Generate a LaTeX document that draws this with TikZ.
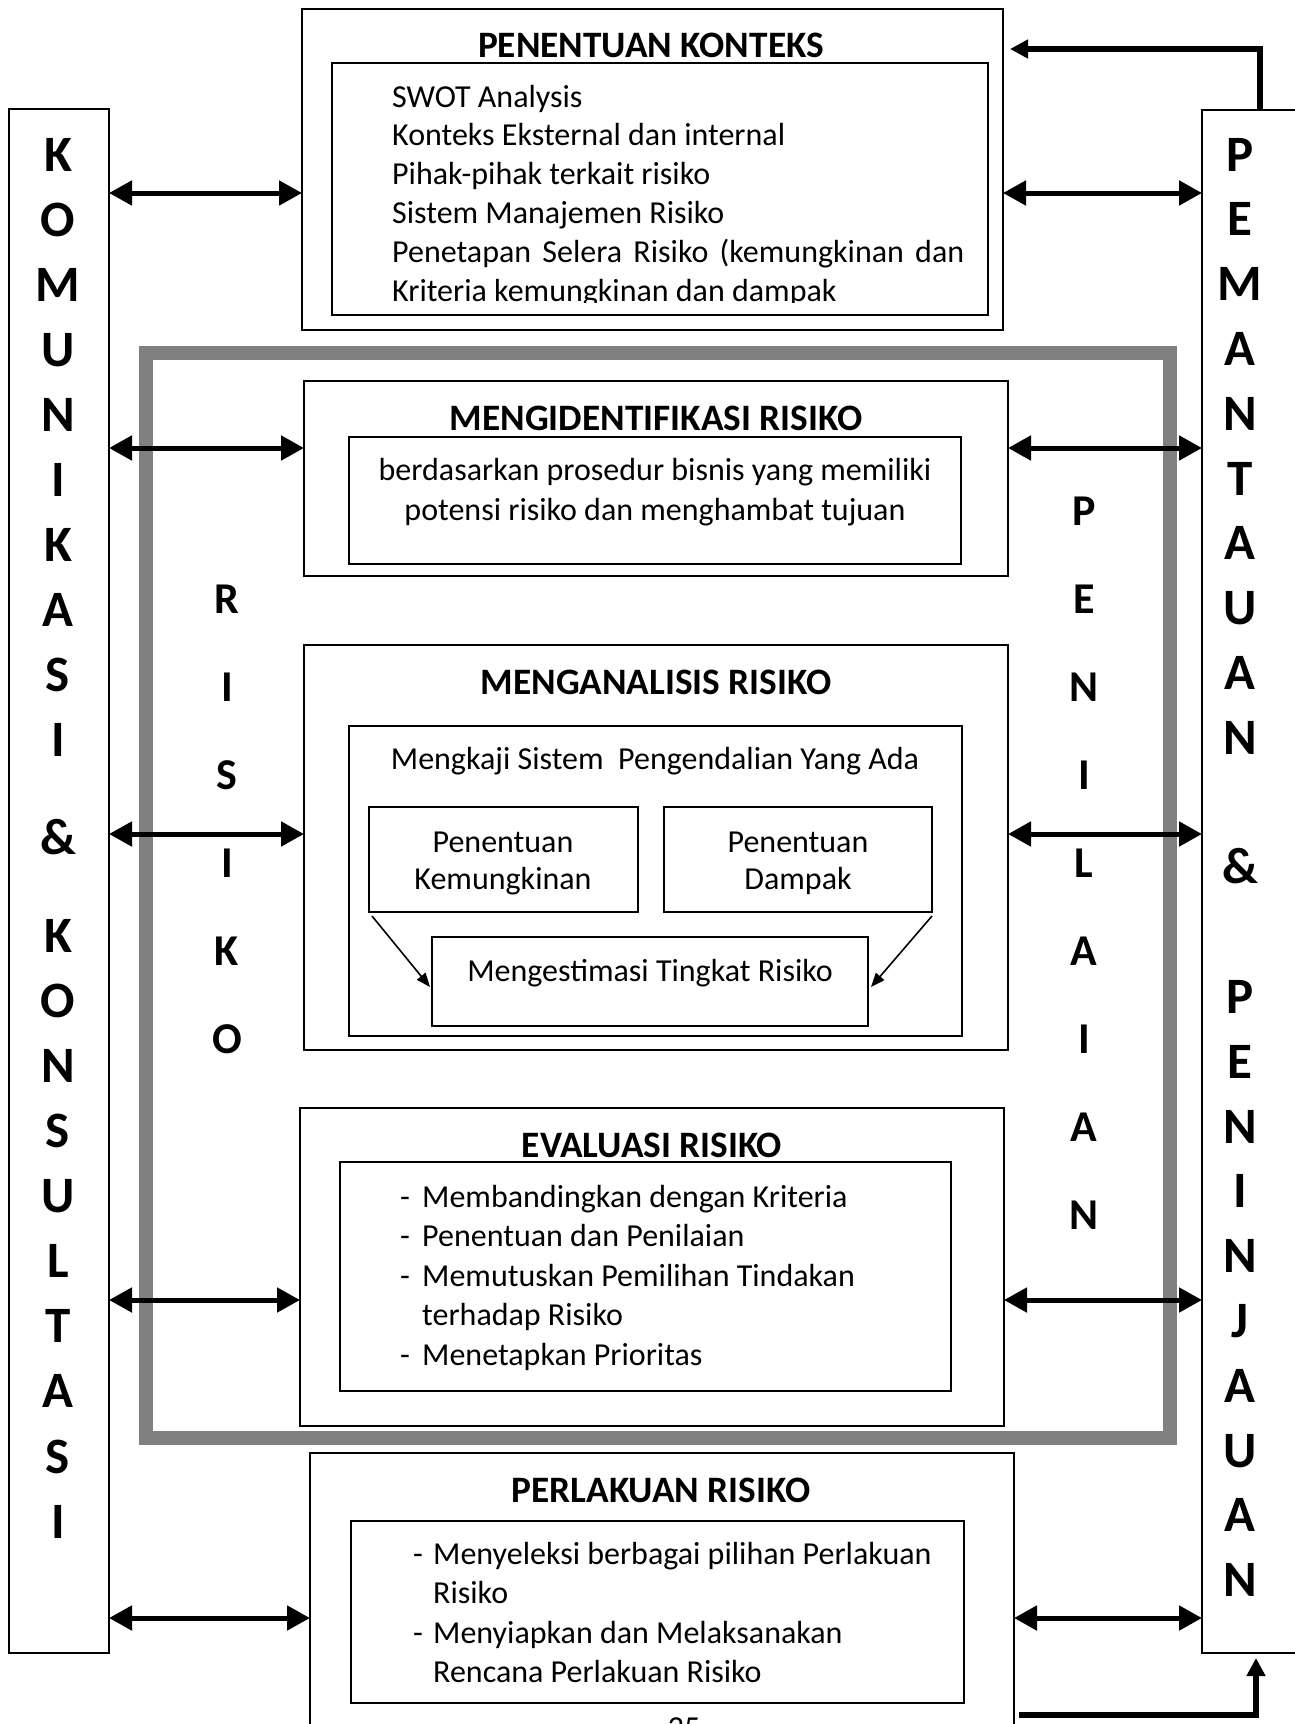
\documentclass[tikz,border=0pt]{standalone}
\usepackage{fontspec}
\setmainfont{Carlito}
\usetikzlibrary{arrows.meta}

\tikzset{
  box/.style={draw, line width=2.5pt, inner sep=0pt, outer sep=0pt, anchor=north west},
  frame/.style={draw=gray, line width=14pt, inner sep=0pt, outer sep=0pt, anchor=north west},
  title/.style={font=\fontsize{37.3pt}{44pt}\selectfont\bfseries, anchor=base, inner sep=0pt},
  body/.style={font=\fontsize{32pt}{39pt}\selectfont, anchor=base west, inner sep=0pt},
  bodyc/.style={body, anchor=base},
  sidechar/.style={font=\fontsize{51pt}{60pt}\selectfont\bfseries, anchor=base, inner sep=0pt},
  midchar/.style={font=\fontsize{44pt}{52pt}\selectfont\bfseries, anchor=base, inner sep=0pt},
  dblarrow/.style={line width=5pt, {Triangle[length=23pt,width=24pt]}-{Triangle[length=23pt,width=24pt]}},
  feedarrow/.style={line width=5.5pt, -{Triangle[length=18pt,width=18pt]}},
  thinarrow/.style={line width=1.6pt, -{Triangle[length=14pt,width=11pt]}}
}
\newcommand{\itemdash}[1][22pt]{\makebox[#1][l]{-}}

\begin{document}
\begin{tikzpicture}[x=1pt,y=-1pt]
  \useasboundingbox (0,0) rectangle (1295,1724);
  \fill[white] (0,0) rectangle (1295,1724);
  \clip (0,0) rectangle (1295,1724);

  % outer frame of the assessment part
  \node[frame, minimum width=1024pt, minimum height=1085pt] (assess) at (146,353) {};

  % side columns
  \node[box, minimum width=100pt, minimum height=1544pt] (kom) at (9,109) {};
  \node[box, minimum width=130pt, minimum height=1543pt] (pem) at (1202,110) {};

  \foreach \i/\c [count=\n] in {0/K,1/O,2/M,3/U,4/N,5/I,6/K,7/A,8/S,9/I,10.5/\&,12/K,13/O,14/N,15/S,16/U,17/L,18/T,19/A,20/S,21/I}
    \node[sidechar] (komc\n) at (58,171+\i*65.1) {\c};
  \foreach \i/\c [count=\n] in {0/P,1/E,2/M,3/A,4/N,5/T,6/A,7/U,8/A,9/N,11/\&,13/P,14/E,15/N,16/I,17/N,18/J,19/A,20/U,21/A,22/N}
    \node[sidechar] (pemc\n) at (1240,171+\i*64.8) {\c};
  \foreach \c [count=\n from 0] in {R,I,S,I,K,O}
    \node[midchar] (risc\n) at (227,613+\n*88) {\c};
  \foreach \c [count=\n from 0] in {P,E,N,I,L,A,I,A,N}
    \node[midchar] (penc\n) at (1084,525+\n*88.1) {\c};

  % penentuan konteks
  \node[box, minimum width=701pt, minimum height=321pt] (konteks) at (302,9) {};
  \node[box, minimum width=656pt, minimum height=252pt] (konteksin) at (332,63) {};
  \node[title] (konteksttl) at (651,57) {PENENTUAN KONTEKS};
  \begin{scope}
    \clip (332,63) rectangle (988,302);
    \node[body] (ctx0) at (392,107) {SWOT Analysis};
    \node[body] (ctx1) at (392,145.9) {Konteks Eksternal dan internal};
    \node[body] (ctx2) at (392,184.8) {Pihak-pihak terkait risiko};
    \node[body] (ctx3) at (392,223.7) {Sistem Manajemen Risiko};
    \node[body] (ctx4) at (392,262.6) {\makebox[572pt][s]{Penetapan Selera Risiko (kemungkinan dan}};
    \node[body] (ctx5) at (392,301.5) {Kriteria kemungkinan dan dampak};
  \end{scope}

  % mengidentifikasi
  \node[box, minimum width=704pt, minimum height=195pt] (identifikasi) at (304,381) {};
  \node[box, minimum width=612pt, minimum height=127pt] (identifikasiin) at (349,437) {};
  \node[title] (identifikasittl) at (656,430) {MENGIDENTIFIKASI RISIKO};
  \node[bodyc] (idt0) at (655,480) {berdasarkan prosedur bisnis yang memiliki};
  \node[bodyc] (idt1) at (655,520) {potensi risiko dan menghambat tujuan};

  % menganalisis
  \node[box, minimum width=704pt, minimum height=405pt] (analisis) at (304,645) {};
  \node[box, minimum width=613pt, minimum height=310pt] (analisisin) at (349,726) {};
  \node[title] (analisisttl) at (656,694) {MENGANALISIS RISIKO};
  \node[bodyc] (kaji) at (655,769) {Mengkaji Sistem\ \ Pengendalian Yang Ada};
  \node[box, minimum width=269pt, minimum height=105pt] (kemungkinan) at (369,807) {};
  \node[box, minimum width=268pt, minimum height=105pt] (dampak) at (664,807) {};
  \node[box, minimum width=436pt, minimum height=89pt] (estimasi) at (432,937) {};
  \node[bodyc] (kmg0) at (503,852) {Penentuan};
  \node[bodyc] (kmg1) at (503,889) {Kemungkinan};
  \node[bodyc] (dmp0) at (798,852) {Penentuan};
  \node[bodyc] (dmp1) at (798,889) {Dampak};
  \node[bodyc] (est0) at (650,981) {Mengestimasi Tingkat Risiko};
  \draw[thinarrow] ([shift={(3,4)}]kemungkinan.south west) -- ([shift={(-2,5.5)}]estimasi.west);
  \draw[thinarrow] ([shift={(0,4)}]dampak.south east) -- ([shift={(3,5.5)}]estimasi.east);

  % evaluasi
  \node[box, minimum width=704pt, minimum height=318pt] (evaluasi) at (300,1108) {};
  \node[box, minimum width=611pt, minimum height=229pt] (evaluasiin) at (340,1162) {};
  \node[title] (evaluasittl) at (652,1157) {EVALUASI RISIKO};
  \node[body] (evl0) at (400,1207) {\itemdash Membandingkan dengan Kriteria};
  \node[body] (evl1) at (400,1246.5) {\itemdash Penentuan dan Penilaian};
  \node[body] (evl2) at (400,1286) {\itemdash Memutuskan Pemilihan Tindakan};
  \node[body] (evl3) at (422,1325.5) {terhadap Risiko};
  \node[body] (evl4) at (400,1365) {\itemdash Menetapkan Prioritas};

  % perlakuan
  \node[box, minimum width=704pt, minimum height=300pt] (perlakuan) at (310,1453) {};
  \node[box, minimum width=613pt, minimum height=182pt] (perlakuanin) at (351,1521) {};
  \node[title] (perlakuanttl) at (661,1502) {PERLAKUAN RISIKO};
  \node[body] (prl0) at (413,1564) {\itemdash[20pt]Menyeleksi berbagai pilihan Perlakuan};
  \node[body] (prl1) at (433,1603.5) {Risiko};
  \node[body] (prl2) at (413,1643) {\itemdash[20pt]Menyiapkan dan Melaksanakan};
  \node[body] (prl3) at (433,1682.5) {Rencana Perlakuan Risiko};
  \node[bodyc] (pagenum) at (684,1738) {25};

  % connections to the side columns
  \coordinate (a1) at (0,193);
  \coordinate (a2) at (0,448);
  \coordinate (a3) at (0,834);
  \coordinate (a4) at (0,1300);
  \coordinate (a5) at (0,1618);
  \draw[dblarrow] (kom.east |- a1) -- (konteks.west |- a1);
  \draw[dblarrow] (kom.east |- a2) -- (identifikasi.west |- a2);
  \draw[dblarrow] (kom.east |- a3) -- (analisis.west |- a3);
  \draw[dblarrow] (kom.east |- a4) -- (evaluasi.west |- a4);
  \draw[dblarrow] (kom.east |- a5) -- (perlakuan.west |- a5);
  \draw[dblarrow] (konteks.east |- a1) -- (pem.west |- a1);
  \draw[dblarrow] (identifikasi.east |- a2) -- (pem.west |- a2);
  \draw[dblarrow] (analisis.east |- a3) -- (pem.west |- a3);
  \draw[dblarrow] (evaluasi.east |- a4) -- (pem.west |- a4);
  \draw[dblarrow] (perlakuan.east |- a5) -- (pem.west |- a5);

  % feedback loops
  \coordinate (fbtop) at (1260,49);
  \coordinate (fbbot) at (1256,1715);
  \draw[feedarrow, shorten >=7pt] (pem.north -| fbtop) -- (fbtop) -- (konteks.east |- fbtop);
  \draw[feedarrow, shorten <=5pt, shorten >=5pt] (perlakuan.east |- fbbot) -- (fbbot) -- (pem.south -| fbbot);
\end{tikzpicture}
\end{document}
